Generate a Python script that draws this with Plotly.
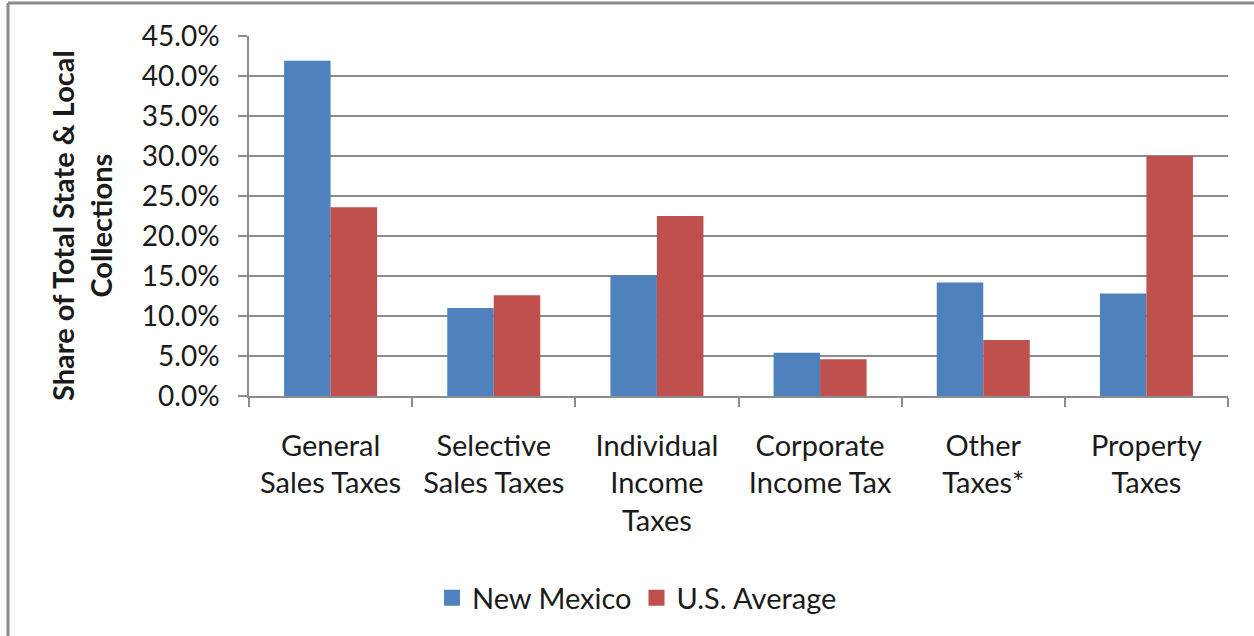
import plotly.graph_objects as go

categories = ["General<br>Sales Taxes", "Selective<br>Sales Taxes", "Individual<br>Income<br>Taxes",
              "Corporate<br>Income Tax", "Other<br>Taxes*", "Property<br>Taxes"]
new_mexico = [0.419, 0.110, 0.151, 0.054, 0.142, 0.128]
us_average = [0.236, 0.126, 0.225, 0.046, 0.070, 0.300]
y_ticks = [0, 0.05, 0.10, 0.15, 0.20, 0.25, 0.30, 0.35, 0.40, 0.45]
series_names = ["New Mexico", "U.S. Average"]
series_colors = ["#4F81BD", "#C0504D"]
y_title = "<b>Share of Total State & Local<br>Collections</b>"

FONT = "Lato"
W, H = 1254, 636
L, R, T, B = 249, 26, 36, 240

fig = go.Figure()
for name, vals, col in zip(series_names, [new_mexico, us_average], series_colors):
    fig.add_trace(go.Bar(x=categories, y=vals, name=name, marker_color=col,
                         marker_line_width=0, showlegend=False, legendgroup=name))
# legend proxies (larger square swatches, like the original)
for name, col in zip(series_names, series_colors):
    fig.add_trace(go.Scatter(x=[None], y=[None], mode="markers", name=name, legendgroup=name,
                             marker=dict(symbol="square", size=18, color=col)))

pw = W - L - R
ph = H - T - B
fig.update_layout(
    width=W, height=H,
    margin=dict(l=L, r=R, t=T, b=B, pad=0),
    paper_bgcolor="white", plot_bgcolor="white",
    barmode="group", bargap=0.43, bargroupgap=0,
    font=dict(family=FONT, size=26, color="#1a1a1a"),
    showlegend=True,
    legend=dict(orientation="h", x=(637 - L) / pw, xanchor="center",
                y=-(598 - 396) / ph, yanchor="middle", font=dict(size=29),
                itemsizing="trace", traceorder="normal", itemwidth=30),
    shapes=[
        dict(type="line", xref="paper", yref="paper", x0=(8 - L) / pw, x1=(8 - L) / pw,
             y0=(396 - 3) / ph, y1=(396 - 640) / ph, line=dict(color="#8a8a8a", width=3)),
        dict(type="line", xref="paper", yref="paper", x0=(8 - L) / pw, x1=(1260 - L) / pw,
             y0=(396 - 3) / ph, y1=(396 - 3) / ph, line=dict(color="#8a8a8a", width=3)),
    ],
    annotations=[
        dict(text=y_title, textangle=-90, xref="paper", yref="paper",
             x=(81 - L) / pw, y=(396 - 226) / ph, xanchor="center", yanchor="middle",
             showarrow=False, font=dict(size=29, family=FONT, color="#1a1a1a")),
    ],
)
fig.update_xaxes(
    type="category", showgrid=False, showline=True, linecolor="#8c8c8c", linewidth=1.5,
    ticks="outside", tickson="boundaries", ticklen=9, tickcolor="#8c8c8c", tickwidth=1.5,
    tickfont=dict(size=29, family=FONT), ticklabelstandoff=23,
)
fig.update_yaxes(
    range=[0, 0.45], tickvals=y_ticks, tickformat=".1%", showgrid=True, gridcolor="#8c8c8c",
    gridwidth=1.5, showline=True, linecolor="#8c8c8c", linewidth=1.5, ticks="outside", ticklen=9,
    tickcolor="#8c8c8c", tickwidth=1.5, tickfont=dict(size=28, family=FONT), zeroline=False,
    ticklabelstandoff=13,
)
fig.write_html("out.html")
